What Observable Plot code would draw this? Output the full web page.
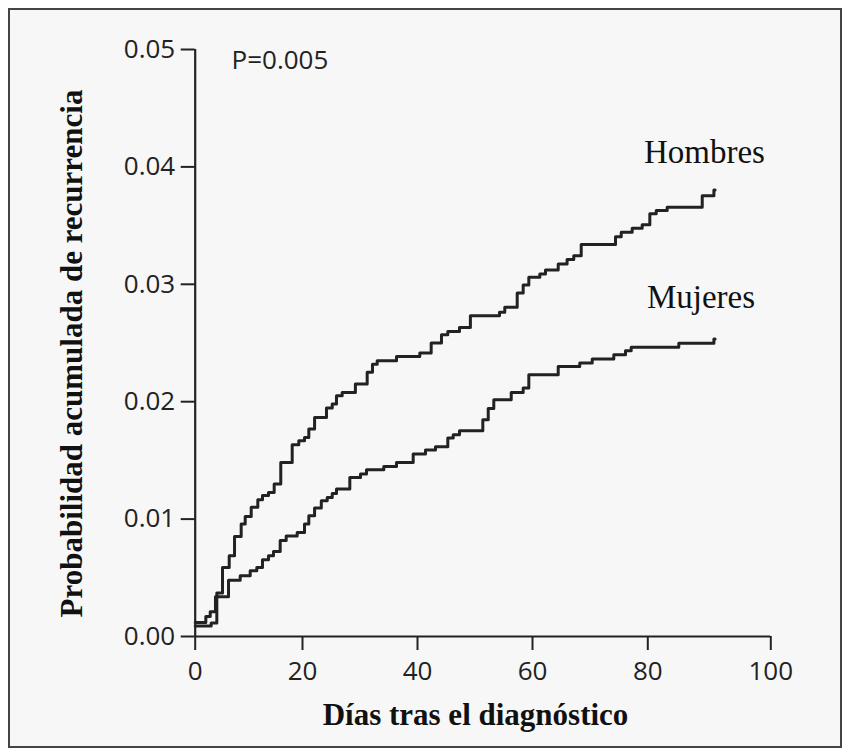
<!DOCTYPE html>
<html><head><meta charset="utf-8">
<script src="https://cdn.jsdelivr.net/npm/d3@7"></script>
<script src="https://cdn.jsdelivr.net/npm/@observablehq/plot@0.6"></script>
<style>
html,body{margin:0;padding:0;background:#fff;}
#wrap{position:relative;width:849px;height:755px;}
#frame{position:absolute;left:8px;top:8px;width:834px;height:740px;box-sizing:border-box;border:2px solid #444;background:#f7f7f7;}
#chart{position:absolute;left:0;top:0;}
</style></head><body>
<div id="wrap"><div id="frame"></div><div id="chart"></div></div>
<script>
// Hombres: step times (días) and cumulative probability
const hombresDias = [0, 2.98, 4.03, 5.09, 6.34, 7.33, 8.57, 9.32, 10.44, 11.67, 12.54, 13.66, 14.72, 15.95, 18.08, 19.31, 20.35, 21.1, 22.1, 24.17, 25.17, 25.91, 26.9, 29.2, 31.25, 32.17, 32.99, 36.35, 40.4, 42.38, 44.17, 45.27, 47.3, 49.2, 54.26, 55.18, 57.34, 58.38, 59.36, 61.27, 62.25, 64.46, 66.0, 67.16, 68.45, 74.4, 75.39, 77.29, 79.03, 80.33, 81.37, 83.15, 88.85, 90.75, 90.94];
const hombresProb = [0.00089, 0.00114, 0.00370, 0.00588, 0.00688, 0.00852, 0.00958, 0.01023, 0.01100, 0.01165, 0.01200, 0.01227, 0.01299, 0.01483, 0.01634, 0.01668, 0.01696, 0.01767, 0.01866, 0.01946, 0.01980, 0.02051, 0.02079, 0.02151, 0.02250, 0.02320, 0.02349, 0.02384, 0.02415, 0.02500, 0.02571, 0.02599, 0.02633, 0.02733, 0.02761, 0.02804, 0.02926, 0.02994, 0.03059, 0.03088, 0.03122, 0.03173, 0.03212, 0.03244, 0.03338, 0.03406, 0.03443, 0.03477, 0.03508, 0.03600, 0.03628, 0.03656, 0.03755, 0.03804, 0.03804];
// Mujeres
const mujeresDias = [0, 1.98, 2.80, 3.78, 6.21, 8.39, 10.25, 11.48, 12.54, 13.66, 14.59, 15.84, 16.96, 19.01, 20.35, 21.1, 22.1, 23.27, 24.3, 25.17, 25.91, 28.23, 30.09, 31.13, 34.14, 36.35, 39.25, 41.39, 43.13, 45.27, 46.21, 47.3, 51.36, 52.3, 53.27, 56.3, 58.38, 59.36, 64.46, 68.2, 70.36, 74.1, 76.13, 77.12, 85.04, 90.75, 90.94];
const mujeresProb = [0.00119, 0.00170, 0.00210, 0.00338, 0.00480, 0.00517, 0.00560, 0.00588, 0.00654, 0.00688, 0.00724, 0.00818, 0.00855, 0.00886, 0.00958, 0.01029, 0.01094, 0.01156, 0.01184, 0.01219, 0.01256, 0.01355, 0.01384, 0.01420, 0.01449, 0.01483, 0.01554, 0.01588, 0.01617, 0.01691, 0.01719, 0.01753, 0.01847, 0.01943, 0.02017, 0.02079, 0.02117, 0.02230, 0.02300, 0.02330, 0.02364, 0.02400, 0.02435, 0.02463, 0.02497, 0.02534, 0.02534];

const xTicks = [0, 20, 40, 60, 80, 100];
const yTicks = [0, 0.01, 0.02, 0.03, 0.04, 0.05];

const seriesNames = ["Hombres", "Mujeres"];
const labelDias = [89.2, 88.65];
const labelProb = [0.04037, 0.02794];

const pText = "P=0.005";
const pDias = 6.77;
const pProb = 0.0483;

const xTitle = "Días tras el diagnóstico";
const yTitle = "Probabilidad acumulada de recurrencia";

const hombres = hombresDias.map((d, i) => ({dias: d, prob: hombresProb[i]}));
const mujeres = mujeresDias.map((d, i) => ({dias: d, prob: mujeresProb[i]}));
const labels = seriesNames.map((s, i) => ({s, dias: labelDias[i], prob: labelProb[i]}));

const ink = "#222";
const plot = Plot.plot({
  width: 849,
  height: 755,
  marginLeft: 194.7,
  marginRight: 78.7,
  marginTop: 49,
  marginBottom: 119,
  style: {background: "transparent", color: ink, fontFamily: "Open Sans"},
  x: {type: "linear", domain: xTicks, range: [194.7, 302, 417, 532, 647.3, 770.3]},
  y: {type: "linear", domain: [0, 0.05], range: [636, 49]},
  marks: [
    Plot.axisY({ticks: yTicks, tickSize: 14, tickPadding: 6, tickFormat: d => d.toFixed(2), fontSize: 26, label: null, strokeWidth: 2}),
    Plot.axisX({ticks: xTicks, tickSize: 14, tickPadding: 11, tickFormat: d3.format("d"), fontSize: 26, label: null, strokeWidth: 2}),
    Plot.ruleX([0], {y1: 0, y2: 0.05, stroke: ink, strokeWidth: 2.2}),
    Plot.ruleY([0], {x1: 0, x2: 100, stroke: ink, strokeWidth: 2.2}),
    Plot.line(hombres, {x: "dias", y: "prob", curve: "step-after", stroke: ink, strokeWidth: 3}),
    Plot.line(mujeres, {x: "dias", y: "prob", curve: "step-after", stroke: ink, strokeWidth: 3}),
    Plot.text(labels, {x: "dias", y: "prob", text: "s", fontFamily: "Liberation Serif", fontSize: 33, lineAnchor: "bottom", fill: "#111"}),
    Plot.text([pText], {x: () => pDias, y: () => pProb, text: d => d, textAnchor: "start", lineAnchor: "bottom", fontSize: 26, letterSpacing: "1px", fill: ink}),
    Plot.text([xTitle], {frameAnchor: "bottom", text: d => d, textAnchor: "middle", dx: -7.5, dy: 88, lineAnchor: "bottom", fontFamily: "Liberation Serif", fontWeight: "bold", fontSize: 31, fill: "#111"}),
    Plot.text([yTitle], {frameAnchor: "left", text: d => d, rotate: -90, textAnchor: "middle", dx: -123, dy: 10.5, lineAnchor: "middle", fontFamily: "Liberation Serif", fontWeight: "bold", fontSize: 31, fill: "#111"})
  ]
});
document.getElementById("chart").appendChild(plot);
</script>
</body></html>
